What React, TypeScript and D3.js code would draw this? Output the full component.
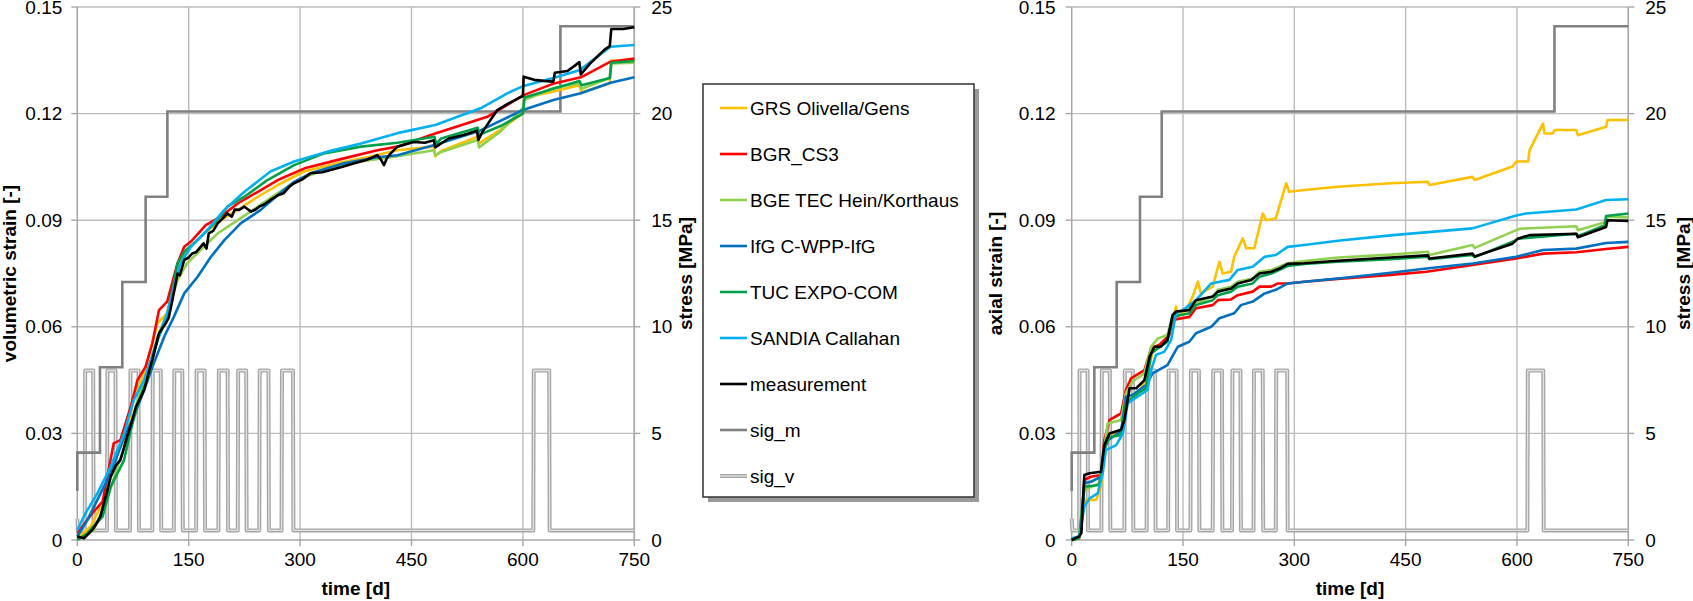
import React from 'react';
import * as d3 from 'd3';

type Pt = [number, number];

// ---------- axis ticks ----------
const TIME_TICKS = [0, 150, 300, 450, 600, 750];
const STRAIN_TICKS = [0, 0.03, 0.06, 0.09, 0.12, 0.15];
const STRAIN_TICK_LABELS = ['0', '0.03', '0.06', '0.09', '0.12', '0.15'];
const STRESS_TICKS = [0, 5, 10, 15, 20, 25];

// ---------- series ----------
const SERIES_NAMES = [
  'GRS Olivella/Gens',
  'BGR_CS3',
  'BGE TEC Hein/Korthaus',
  'IfG C-WPP-IfG',
  'TUC EXPO-COM',
  'SANDIA Callahan',
  'measurement',
  'sig_m',
  'sig_v',
];
const SERIES_COLORS = ['#FFC000', '#FF0000', '#92D050', '#0070C0', '#00A04B', '#00B0F0', '#000000', '#808080', '#A6A6A6'];

// mean stress (MPa) steps
const SIG_M: Pt[] = [
  [0, 2.3], [0, 4.1], [30.5, 4.1], [30.5, 8.1], [60.6, 8.1], [60.6, 12.1], [92, 12.1], [92, 16.1],
  [121.3, 16.1], [121.3, 20.1], [650.5, 20.1], [650.5, 24.1], [750, 24.1],
];
// deviatoric cycles: [start, end] days
const SIG_V_PULSES: Pt[] = [
  [10, 22], [40, 52], [71, 83], [101, 113], [130, 142], [160, 172], [190, 203], [216, 228], [245, 258], [275, 291], [614, 636],
];
const SIG_V_START = 1.0;
const SIG_V_LOW = 0.45;
const SIG_V_HIGH = 7.95;

// ---------- volumetric strain (left) ----------
const VOL_GRS: Pt[] = [[0,0.0005],[18,0.0038],[36,0.0113],[49,0.0225],[63,0.028],[76,0.0394],[90,0.047],[108,0.061],[121,0.0638],[135,0.0769],[148,0.0816],[171,0.0863],[193,0.09],[216,0.0929],[243,0.0966],[270,0.0999],[305,0.1037],[350,0.106],[395,0.1079],[431,0.1097],[480,0.1107],[482,0.108],[490,0.1095],[539,0.1135],[541,0.1116],[570,0.1155],[600,0.1201],[602,0.1245],[641,0.1262],[676,0.128],[679,0.126],[717,0.1285],[719,0.1349],[750,0.1349]];
const VOL_BGR: Pt[] = [[0,0.0019],[20,0.0075],[34,0.0108],[49,0.0272],[58,0.0281],[72,0.0375],[81,0.045],[92,0.0488],[101,0.0553],[110,0.0647],[121,0.0671],[135,0.0779],[144,0.0825],[153,0.084],[173,0.0886],[193,0.091],[216,0.0947],[243,0.098],[270,0.1013],[306,0.1046],[359,0.1074],[404,0.1097],[431,0.1107],[482,0.1144],[552,0.1191],[601,0.1252],[642,0.1285],[678,0.1302],[718,0.1346],[750,0.1355]];
const VOL_BGE: Pt[] = [[0,0],[22,0.0028],[40,0.0113],[54,0.0206],[67,0.028],[81,0.0394],[94,0.047],[108,0.0572],[121,0.0638],[135,0.0732],[148,0.0779],[166,0.0816],[189,0.0863],[216,0.09],[243,0.0938],[270,0.0976],[297,0.1013],[337,0.1046],[382,0.1065],[431,0.108],[480,0.1097],[482,0.1083],[490,0.1092],[539,0.1126],[541,0.1105],[570,0.115],[600,0.1216],[602,0.1238],[641,0.1272],[676,0.1285],[679,0.127],[717,0.13],[719,0.1341],[750,0.1343]];
const VOL_IFG: Pt[] = [[0,0.001],[13.5,0.0056],[27,0.0113],[45,0.0188],[63,0.029],[76,0.0347],[90,0.0422],[103,0.0497],[117,0.0572],[130,0.0628],[144,0.0694],[162,0.0741],[180,0.0797],[198,0.0844],[220,0.0891],[247,0.0929],[270,0.0971],[292,0.1008],[314,0.1032],[359,0.106],[404,0.1077],[431,0.1083],[482,0.1112],[540,0.115],[600,0.121],[641,0.1238],[678,0.1257],[718,0.1287],[750,0.1302]];
const VOL_TUC: Pt[] = [[0,0],[13.5,0.0019],[34,0.0066],[45,0.015],[63,0.0225],[72,0.031],[83,0.0394],[94,0.045],[108,0.0563],[121,0.0628],[135,0.0779],[144,0.0811],[162,0.0844],[189,0.09],[202,0.0938],[225,0.0966],[256,0.1013],[292,0.1055],[332,0.1088],[382,0.1107],[431,0.1118],[481,0.1135],[483,0.1115],[490,0.113],[539,0.116],[541,0.114],[570,0.1165],[600,0.12],[602,0.1245],[641,0.127],[676,0.1292],[679,0.128],[717,0.13],[719,0.1343],[750,0.1348]];
const VOL_SANDIA: Pt[] = [[0,0.0028],[11,0.0075],[27,0.0131],[45,0.0206],[63,0.03],[76,0.0394],[90,0.045],[108,0.0563],[121,0.0638],[130,0.0713],[139,0.0779],[153,0.0825],[175,0.0872],[198,0.0929],[225,0.098],[260,0.1037],[292,0.1065],[337,0.1093],[382,0.1116],[431,0.1145],[482,0.1168],[543,0.1215],[579,0.1257],[601,0.1278],[641,0.13],[677,0.1323],[700,0.136],[718,0.1388],[750,0.1393]];
const VOL_MEAS: Pt[] = [[0,0.001],[9,0.0005],[20,0.0028],[24,0.004],[31,0.0066],[38,0.012],[45,0.0178],[52,0.021],[58,0.0225],[67,0.029],[73,0.033],[79,0.0375],[85,0.04],[90,0.0422],[96,0.047],[101,0.0507],[110,0.0582],[119,0.061],[123,0.0625],[128,0.0675],[135,0.075],[138,0.0745],[144,0.0788],[150,0.0795],[155,0.0807],[160,0.081],[166,0.0825],[170,0.0835],[174,0.082],[177,0.0863],[183,0.087],[189,0.0891],[196,0.0905],[202,0.0919],[208,0.091],[212,0.093],[218,0.0929],[225,0.0938],[230,0.093],[234,0.0924],[240,0.093],[245,0.0938],[252,0.0945],[260,0.0957],[270,0.097],[278,0.0976],[286,0.0995],[292,0.1004],[303,0.1015],[314,0.1032],[330,0.1035],[341,0.1041],[356,0.105],[373,0.106],[390,0.107],[404,0.1083],[409,0.107],[413,0.1055],[417,0.1075],[422,0.1088],[431,0.1107],[453,0.112],[468,0.1118],[480,0.1125],[482,0.1105],[500,0.113],[520,0.114],[538,0.1152],[540,0.1126],[546,0.115],[565,0.1209],[580,0.1228],[600,0.125],[601,0.1304],[615,0.1295],[628,0.1292],[641,0.129],[643,0.1315],[660,0.132],[670,0.1335],[676,0.1345],[678,0.131],[690,0.134],[700,0.136],[710,0.138],[717,0.139],[719,0.1438],[735,0.1438],[750,0.1443]];

// ---------- axial strain (right) ----------
const AX_GRS: Pt[] = [[0,0],[10,0.0005],[15,0.008],[19,0.0113],[33,0.0113],[39.5,0.015],[44,0.0258],[48.5,0.03],[66.5,0.03],[73,0.0375],[82,0.0403],[91,0.0413],[102,0.0469],[111,0.0544],[125,0.0553],[134,0.06],[140.6,0.0657],[143,0.0628],[154,0.0647],[163,0.0685],[170,0.0727],[174,0.0694],[190,0.0713],[199,0.0783],[203.5,0.075],[214.7,0.0755],[219,0.0797],[230.5,0.0849],[235,0.0821],[246,0.0821],[257.4,0.0919],[262,0.09],[275,0.0905],[289,0.1004],[293,0.098],[313.5,0.0985],[358.5,0.0994],[430,0.1004],[480,0.1008],[482,0.0999],[540,0.1022],[543,0.1013],[594,0.1051],[599,0.1065],[615,0.1065],[617,0.1097],[635,0.1172],[637,0.1144],[648,0.1144],[651,0.1154],[680,0.1154],[682,0.1139],[720,0.1163],[722,0.1182],[750,0.1182]];
const AX_BGR: Pt[] = [[0,0],[10,0.001],[12.6,0.002],[17,0.0169],[26,0.0178],[39.5,0.0183],[44,0.0281],[51,0.0338],[66.5,0.0356],[73,0.0422],[80,0.0455],[98,0.0478],[107,0.0539],[118,0.0549],[131.6,0.0577],[136,0.0619],[158.5,0.0628],[167.5,0.0652],[190,0.0661],[197,0.0675],[214.7,0.0677],[223.7,0.0689],[244,0.0699],[253,0.0713],[269,0.0713],[278,0.0722],[291,0.0722],[313.5,0.0727],[358.5,0.0735],[430,0.0746],[478,0.0755],[540,0.0774],[599,0.0792],[635,0.0806],[680,0.081],[720,0.0819],[750,0.0825]];
const AX_BGE: Pt[] = [[0,0],[10,0.0005],[17,0.014],[37,0.016],[44,0.026],[48.5,0.0328],[66.5,0.0338],[73,0.0413],[82,0.0446],[98,0.0469],[107,0.0544],[116,0.0567],[129,0.0577],[136,0.0633],[156,0.0652],[167.5,0.0666],[190,0.0685],[197,0.0704],[214.7,0.0713],[223.7,0.0727],[244,0.0736],[253,0.0755],[269,0.076],[291,0.0779],[313.5,0.0785],[358.5,0.0795],[430,0.0803],[480,0.0811],[482,0.0802],[540,0.083],[543,0.0822],[599,0.0872],[604,0.0876],[680,0.0883],[682,0.0872],[720,0.0895],[722,0.091],[750,0.0908]];
const AX_IFG: Pt[] = [[0,0],[10,0.001],[12.6,0.0028],[17,0.016],[26,0.0164],[39.5,0.0178],[44,0.0263],[48.5,0.0281],[66.5,0.0305],[73,0.0403],[82,0.0408],[100,0.0436],[109,0.0469],[129,0.0492],[143,0.0544],[158.5,0.0558],[167.5,0.0582],[188,0.06],[199,0.0624],[219,0.0638],[228,0.0661],[244,0.0671],[260,0.0694],[275,0.0704],[291,0.0722],[313.5,0.0727],[358.5,0.0736],[430,0.0752],[478,0.0764],[540,0.0778],[599,0.0797],[635,0.0816],[680,0.082],[720,0.0836],[750,0.0839]];
const AX_TUC: Pt[] = [[0,0],[10,0.0005],[17,0.015],[37,0.0155],[44,0.0253],[51,0.029],[66.5,0.0295],[73,0.0385],[89,0.0413],[100,0.0427],[107,0.0525],[116,0.0539],[129,0.0558],[136,0.0628],[158.5,0.0638],[167.5,0.0661],[190,0.0675],[197,0.0689],[214.7,0.0699],[223.7,0.0713],[244,0.0722],[253,0.0741],[269,0.075],[291,0.0771],[313.5,0.0777],[358.5,0.0783],[430,0.079],[480,0.0797],[482,0.079],[540,0.0802],[543,0.0796],[599,0.0844],[601,0.0848],[680,0.0862],[682,0.0855],[718,0.0885],[720,0.0912],[750,0.0919]];
const AX_SANDIA: Pt[] = [[0,0.0005],[10,0.001],[12.6,0.0038],[17,0.0094],[24,0.0117],[35,0.0131],[41.8,0.0188],[46,0.0253],[60,0.0267],[69,0.03],[75.5,0.0385],[95.7,0.0413],[102,0.0422],[107,0.0478],[113.6,0.0521],[125,0.053],[134,0.0563],[140.6,0.0638],[149.6,0.0647],[167.5,0.0675],[188,0.0722],[212.5,0.0732],[223.7,0.076],[244,0.0769],[260,0.0797],[275,0.0802],[291,0.0825],[313.5,0.083],[358.5,0.0842],[433,0.0858],[540,0.0877],[599,0.0913],[612,0.0919],[680,0.093],[720,0.0957],[750,0.0959]];
const AX_MEAS: Pt[] = [[0,0],[10,0.001],[13,0.002],[17,0.0183],[24,0.0188],[39.5,0.0192],[44,0.0267],[51,0.03],[66.5,0.031],[71,0.0338],[78,0.0427],[87,0.0427],[98,0.045],[105,0.0516],[111.5,0.0544],[120,0.0544],[129,0.0563],[136,0.0633],[140.6,0.0643],[158.5,0.0647],[167.5,0.0675],[190,0.0685],[197,0.0699],[214.7,0.0708],[223.7,0.0722],[242,0.0732],[253,0.075],[269,0.0755],[280,0.0764],[291,0.0777],[313.5,0.0779],[358.5,0.0786],[430,0.0795],[480,0.0801],[482,0.0792],[540,0.0806],[543,0.0798],[594,0.0834],[601,0.0848],[617,0.0858],[680,0.0862],[682,0.0852],[720,0.0881],[722,0.09],[750,0.0898]];

const VOL_SERIES = [VOL_GRS, VOL_BGR, VOL_BGE, VOL_IFG, VOL_TUC, VOL_SANDIA, VOL_MEAS];
const AX_SERIES = [AX_GRS, AX_BGR, AX_BGE, AX_IFG, AX_TUC, AX_SANDIA, AX_MEAS];

// ---------- layout ----------
const W = 1693;
const H = 601;
const PLOT_TOP = 7;
const PLOT_BOTTOM = 540;
const FONT = '"Liberation Sans", Arial, Helvetica, sans-serif';
const FS = 19;
const GRID = '#bdbdbd';

function buildSigV(): Pt[] {
  const pts: Pt[] = [[0, SIG_V_START], [1, SIG_V_LOW]];
  for (const [a, b] of SIG_V_PULSES) {
    pts.push([a, SIG_V_LOW], [a + 0.6, SIG_V_HIGH], [b - 0.6, SIG_V_HIGH], [b, SIG_V_LOW]);
  }
  pts.push([750, SIG_V_LOW]);
  return pts;
}

interface PanelProps {
  x0: number;
  x1: number;
  series: Pt[][];
  ylabel: string;
  ylabelX: number;
  yTickOff: number;
  rTitleX: number;
}

function Panel({ x0, x1, series, ylabel, ylabelX, yTickOff, rTitleX }: PanelProps) {
  const x = d3.scaleLinear().domain([0, 750]).range([x0, x1]);
  const y = d3.scaleLinear().domain([0, 0.15]).range([PLOT_BOTTOM, PLOT_TOP]);
  const ys = d3.scaleLinear().domain([0, 25]).range([PLOT_BOTTOM, PLOT_TOP]);
  const line = d3.line<Pt>().x((d) => x(d[0])).y((d) => y(d[1]));
  const sline = d3.line<Pt>().x((d) => x(d[0])).y((d) => ys(d[1]));
  const sigV = buildSigV();
  const midX = (x0 + x1) / 2;
  const midY = (PLOT_TOP + PLOT_BOTTOM) / 2;
  return (
    <g>
      {/* grid */}
      {TIME_TICKS.filter((t) => t > 0).map((t) => (
        <line key={'gx' + t} x1={x(t)} x2={x(t)} y1={PLOT_TOP} y2={PLOT_BOTTOM} stroke={GRID} strokeWidth={1.4} />
      ))}
      {STRAIN_TICKS.filter((t) => t > 0).map((t) => (
        <line key={'gy' + t} x1={x0} x2={x1} y1={y(t)} y2={y(t)} stroke={GRID} strokeWidth={1.4} />
      ))}
      {/* axes */}
      <line x1={x0} x2={x0} y1={PLOT_TOP} y2={PLOT_BOTTOM} stroke="#a6a6a6" strokeWidth={1.5} />
      <line x1={x0} x2={x1} y1={PLOT_BOTTOM} y2={PLOT_BOTTOM} stroke="#a6a6a6" strokeWidth={1.5} />
      <line x1={x1} x2={x1} y1={PLOT_TOP} y2={PLOT_BOTTOM} stroke="#a6a6a6" strokeWidth={1.5} />
      {STRAIN_TICKS.map((t) => (
        <line key={'ty' + t} x1={x0 - 6} x2={x0} y1={y(t)} y2={y(t)} stroke="#a6a6a6" strokeWidth={1.4} />
      ))}
      {STRESS_TICKS.map((t) => (
        <line key={'ts' + t} x1={x1} x2={x1 + 6} y1={ys(t)} y2={ys(t)} stroke="#a6a6a6" strokeWidth={1.4} />
      ))}
      {TIME_TICKS.map((t) => (
        <line key={'tx' + t} x1={x(t)} x2={x(t)} y1={PLOT_BOTTOM} y2={PLOT_BOTTOM + 6} stroke="#a6a6a6" strokeWidth={1.4} />
      ))}
      {/* stress curves */}
      <path d={sline(sigV) || ''} fill="none" stroke="#a6a6a6" strokeWidth={4} strokeLinejoin="round" />
      <path d={sline(sigV) || ''} fill="none" stroke="#e2e2e2" strokeWidth={1.3} strokeLinejoin="round" />
      <path d={sline(SIG_M) || ''} fill="none" stroke={SERIES_COLORS[7]} strokeWidth={2.6} />
      {/* strain curves */}
      {series.map((s, i) => (
        <path key={'s' + i} d={line(s) || ''} fill="none" stroke={SERIES_COLORS[i]} strokeWidth={2.6} strokeLinejoin="round" />
      ))}
      {/* tick labels */}
      {STRAIN_TICKS.map((t, i) => (
        <text key={'ly' + t} x={x0 - yTickOff} y={y(t)} dy="0.35em" textAnchor="end" fontSize={FS} fontFamily={FONT} fill="#000">
          {STRAIN_TICK_LABELS[i]}
        </text>
      ))}
      {STRESS_TICKS.map((t) => (
        <text key={'ls' + t} x={x1 + 17} y={ys(t)} dy="0.35em" textAnchor="start" fontSize={FS} fontFamily={FONT} fill="#000">
          {t}
        </text>
      ))}
      {TIME_TICKS.map((t) => (
        <text key={'lx' + t} x={x(t)} y={566} textAnchor="middle" fontSize={FS} fontFamily={FONT} fill="#000">
          {t}
        </text>
      ))}
      {/* axis titles */}
      <text x={midX} y={595} textAnchor="middle" fontSize={FS} fontWeight="bold" fontFamily={FONT} fill="#000">
        time [d]
      </text>
      <text transform={`translate(${ylabelX},${midY}) rotate(-90)`} textAnchor="middle" fontSize={FS} fontWeight="bold" fontFamily={FONT} fill="#000">
        {ylabel}
      </text>
      <text transform={`translate(${rTitleX},${midY}) rotate(-90)`} textAnchor="middle" fontSize={FS} fontWeight="bold" fontFamily={FONT} fill="#000">
        stress [MPa]
      </text>
    </g>
  );
}

function Legend() {
  const lx = 703, ly = 84, lw = 271, lh = 413;
  return (
    <g>
      <rect x={lx + 5} y={ly + 5} width={lw} height={lh} fill="#9a9a9a" />
      <rect x={lx} y={ly} width={lw} height={lh} fill="#ffffff" stroke="#3c3c3c" strokeWidth={1.6} />
      {SERIES_NAMES.map((name, i) => {
        const cy = 108 + i * 46;
        return (
          <g key={name}>
            {i === 8 ? (
              <>
                <line x1={720} x2={747} y1={cy} y2={cy} stroke="#a6a6a6" strokeWidth={4} />
                <line x1={720} x2={747} y1={cy} y2={cy} stroke="#e2e2e2" strokeWidth={1.3} />
              </>
            ) : (
              <line x1={720} x2={747} y1={cy} y2={cy} stroke={SERIES_COLORS[i]} strokeWidth={2.6} />
            )}
            <text x={750} y={cy} dy="0.35em" fontSize={FS} fontFamily={FONT} fill="#000">
              {name}
            </text>
          </g>
        );
      })}
    </g>
  );
}

export default function App() {
  return (
    <svg width={W} height={H} style={{ position: 'absolute', left: 0, top: 0, background: '#fff' }}>
      <rect x={0} y={0} width={W} height={H} fill="#fff" />
      <Panel x0={77.3} x1={634.3} series={VOL_SERIES} ylabel="volumetric strain [-]" ylabelX={16} yTickOff={15} rTitleX={692} />
      <Panel x0={1071.7} x1={1628.3} series={AX_SERIES} ylabel="axial strain [-]" ylabelX={1002} yTickOff={16} rTitleX={1690} />
      <Legend />
    </svg>
  );
}
